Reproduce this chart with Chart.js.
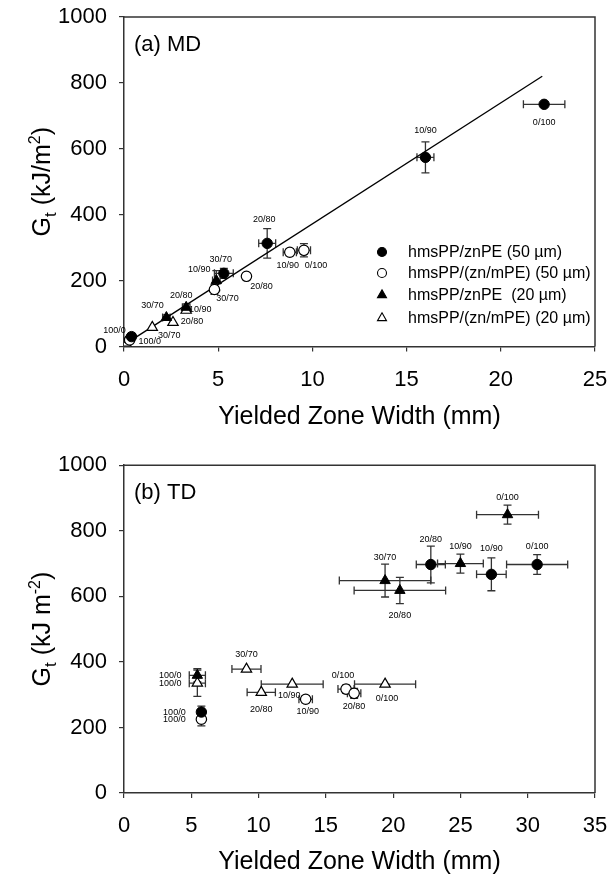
<!DOCTYPE html>
<html>
<head>
<meta charset="utf-8">
<script src="https://cdn.jsdelivr.net/npm/chart.js@4.4.0/dist/chart.umd.min.js"></script>
<style>
html, body { margin:0; padding:0; background:#fff; overflow:hidden; }
#wrap { position:relative; width:611px; height:877px; overflow:hidden; }
.box { position:absolute; left:0; width:630px; }
#boxMD { top:-10px; height:450px; }
#boxTD { top:440px; height:437px; }
</style>
</head>
<body>
<div id="wrap">
  <div class="box" id="boxMD"><canvas id="md"></canvas></div>
  <div class="box" id="boxTD"><canvas id="td"></canvas></div>
</div>
<script>
// ---------- (a) MD ----------
// hmsPP/znPE (50 um)
var mdFCtag  = ['100/0', '30/70', '20/80', '10/90', '0/100'];
var mdFCx    = [0.4, 5.3, 7.6, 16.0, 22.3];
var mdFCy    = [30, 222, 313, 574, 735];
var mdFCxErr = [0, 0.5, 0.45, 0.45, 1.1];
var mdFCyErr = [10, 15, 45, 47, 0];
// hmsPP/(zn/mPE) (50 um)
var mdOCtag  = ['100/0', '30/70', '20/80', '10/90', '0/100'];
var mdOCx    = [0.3, 4.8, 6.5, 8.8, 9.55];
var mdOCy    = [20, 173, 213, 286, 292];
var mdOCxErr = [0, 0, 0, 0.35, 0.35];
var mdOCyErr = [0, 15, 0, 10, 20];
// hmsPP/znPE (20 um)
var mdFTtag  = ['', '30/70', '20/80', '10/90'];
var mdFTx    = [0.2, 2.25, 3.3, 4.9];
var mdFTy    = [22, 88, 119, 200];
var mdFTxErr = [0, 0.2, 0.2, 0.2];
var mdFTyErr = [0, 8, 10, 30];
// hmsPP/(zn/mPE) (20 um)
var mdOTtag  = ['', '30/70', '20/80', '10/90'];
var mdOTx    = [0.1, 1.5, 2.6, 3.3];
var mdOTy    = [10, 58, 73, 110];
var mdOTxErr = [0, 0, 0, 0];
var mdOTyErr = [0, 0, 0, 0];
// fitted line
var mdFitX = [0, 22.2];
var mdFitY = [5, 820];

// ---------- (b) TD ----------
var tdFCtag  = ['100/0', '20/80', '10/90', '0/100'];
var tdFCx    = [5.75, 22.8, 27.3, 30.7];
var tdFCy    = [247, 697, 667, 697];
var tdFCxErr = [0, 1.08, 1.1, 2.27];
var tdFCyErr = [18, 56, 50, 30];

var tdOCtag  = ['100/0', '10/90', '0/100', '20/80'];
var tdOCx    = [5.75, 13.5, 16.5, 17.1];
var tdOCy    = [225, 286, 317, 304];
var tdOCxErr = [0, 0.5, 0.6, 0.5];
var tdOCyErr = [20, 10, 12, 15];

var tdFTtag  = ['100/0', '30/70', '20/80', '10/90', '0/100'];
var tdFTx    = [5.45, 19.4, 20.5, 25.0, 28.5];
var tdFTy    = [359, 648, 618, 700, 849];
var tdFTxErr = [0.6, 3.4, 3.4, 1.7, 2.3];
var tdFTyErr = [20, 50, 40, 29, 29];

var tdOTtag  = ['100/0', '30/70', '20/80', '10/90', '0/100'];
var tdOTx    = [5.45, 9.1, 10.2, 12.5, 19.4];
var tdOTy    = [335, 378, 307, 332, 332];
var tdOTxErr = [0.6, 1.08, 1.05, 2.3, 2.27];
var tdOTyErr = [40, 0, 0, 0, 0];

var seriesNames = ['hmsPP/znPE (50 \u00b5m)', 'hmsPP/(zn/mPE) (50 \u00b5m)',
                   'hmsPP/znPE  (20 \u00b5m)', 'hmsPP/(zn/mPE) (20 \u00b5m)'];

// label offsets (px from the marker) for the ratio tags
var mdFCoff = [[-17, -6], [-3, -14], [-3, -24], [0, -27], [0, 18]];
var mdOCoff = [[20, 2], [13, 9], [15, 10], [-2, 13], [12, 15]];
var mdFToff = [[0, 0], [-14, -12], [-5, -12], [-17, -11]];
var mdOToff = [[0, 0], [17, 8], [19, -1], [14, -1]];
var tdFCoff = [[-27, 0], [0, -25], [0, -26], [0, -18]];
var tdOCoff = [[-27, 0], [2, 12], [-3, -14], [0, 13]];
var tdFToff = [[-27, 0], [0, -23], [0, 25], [0, -17], [0, -17]];
var tdOToff = [[-27, 0], [0, -15], [0, 17], [-3, 11], [2, 14]];

var FONT = '"Liberation Sans", Arial, sans-serif';
Chart.defaults.font.family = FONT;
Chart.defaults.color = '#000';

function look(style, filled) {
    return {
        pointStyle: style,
        pointRadius: style == 'circle' ? 5.2 : 6,
        pointHoverRadius: style == 'circle' ? 5.2 : 6,
        backgroundColor: filled ? '#000' : '#fff',
        borderColor: '#000',
        borderWidth: filled ? 1 : 1.2
    };
}

function series(name, xs, ys, xe, ye, tags, offs, st) {
    return Object.assign({
        label: name,
        data: xs.map(function(v, i) { return {x: v, y: ys[i]}; }),
        xErr: xe, yErr: ye, tags: tags, tagOff: offs, showLine: false
    }, st);
}

function axis(min, max, step, size, pad) {
    return {
        type: 'linear', min: min, max: max,
        ticks: { stepSize: step, font: {size: 22}, color: '#000', padding: pad, maxRotation: 0, autoSkip: false,
                 callback: function(v) { return String(v); } },
        grid: { drawOnChartArea: false, drawTicks: true, tickLength: 5, color: '#333', lineWidth: 1.2 },
        border: { display: true, color: '#333', width: 1.5 },
        afterFit: function(s) { if (s.isHorizontal()) s.height = size; else s.width = size; }
    };
}

function drawMark(ctx, style, filled, x, y) {
    ctx.beginPath();
    if (style == 'circle') {
        ctx.arc(x, y, 4.5, 0, Math.PI * 2);
    } else {
        var r = 5.2;
        ctx.moveTo(x, y - r);
        ctx.lineTo(x + r * 0.866, y + r / 2);
        ctx.lineTo(x - r * 0.866, y + r / 2);
        ctx.closePath();
    }
    ctx.fillStyle = filled ? '#000' : '#fff';
    ctx.fill();
    ctx.lineWidth = 1.1;
    ctx.strokeStyle = '#000';
    ctx.stroke();
}

var deco = {
    id: 'deco',
    beforeDatasetsDraw: function(chart) {
        var ctx = chart.ctx, xs = chart.scales.x, ys = chart.scales.y;
        ctx.save();
        ctx.strokeStyle = '#333';
        ctx.lineWidth = 1.3;
        chart.data.datasets.forEach(function(ds) {
            if (!ds.xErr) return;
            ds.data.forEach(function(p, i) {
                var px = xs.getPixelForValue(p.x), py = ys.getPixelForValue(p.y);
                var ex = ds.xErr[i], ey = ds.yErr[i];
                ctx.beginPath();
                if (ex > 0) {
                    var x1 = xs.getPixelForValue(p.x - ex), x2 = xs.getPixelForValue(p.x + ex);
                    ctx.moveTo(x1, py); ctx.lineTo(x2, py);
                    ctx.moveTo(x1, py - 4); ctx.lineTo(x1, py + 4);
                    ctx.moveTo(x2, py - 4); ctx.lineTo(x2, py + 4);
                }
                if (ey > 0) {
                    var y1 = ys.getPixelForValue(p.y - ey), y2 = ys.getPixelForValue(p.y + ey);
                    ctx.moveTo(px, y1); ctx.lineTo(px, y2);
                    ctx.moveTo(px - 4, y1); ctx.lineTo(px + 4, y1);
                    ctx.moveTo(px - 4, y2); ctx.lineTo(px + 4, y2);
                }
                ctx.stroke();
            });
        });
        ctx.restore();
    },
    afterDatasetsDraw: function(chart) {
        var ctx = chart.ctx, xs = chart.scales.x, ys = chart.scales.y;
        ctx.save();
        ctx.font = '9px ' + FONT;
        ctx.fillStyle = '#000';
        ctx.textAlign = 'center';
        ctx.textBaseline = 'middle';
        chart.data.datasets.forEach(function(ds) {
            if (!ds.tags) return;
            ds.data.forEach(function(p, i) {
                if (!ds.tags[i]) return;
                var o = ds.tagOff[i];
                ctx.fillText(ds.tags[i], xs.getPixelForValue(p.x) + o[0], ys.getPixelForValue(p.y) + o[1]);
            });
        });
        ctx.restore();
    },
    afterDraw: function(chart, args, o) {
        var ctx = chart.ctx, a = chart.chartArea;
        ctx.save();
        // top and right frame
        ctx.strokeStyle = '#333';
        ctx.lineWidth = 1.5;
        ctx.beginPath();
        ctx.moveTo(a.left, a.top); ctx.lineTo(a.right, a.top); ctx.lineTo(a.right, a.bottom);
        ctx.stroke();
        ctx.fillStyle = '#000';
        // panel label
        ctx.font = '22px ' + FONT;
        ctx.textAlign = 'left';
        ctx.textBaseline = 'middle';
        ctx.fillText(o.panel, a.left + 10, a.top + 28);
        // x title
        ctx.font = '25px ' + FONT;
        ctx.textAlign = 'center';
        ctx.fillText('Yielded Zone Width (mm)', (a.left + a.right) / 2, o.xTitleY);
        // y title with sub/superscript
        ctx.save();
        ctx.translate(50, (a.top + a.bottom) / 2);
        ctx.rotate(-Math.PI / 2);
        ctx.textAlign = 'left';
        ctx.textBaseline = 'alphabetic';
        var parts = o.yTitle, total = 0;
        parts.forEach(function(pt) { ctx.font = pt[1] + 'px ' + FONT; total += ctx.measureText(pt[0]).width; });
        var cx = -total / 2;
        parts.forEach(function(pt) {
            ctx.font = pt[1] + 'px ' + FONT;
            ctx.fillText(pt[0], cx, pt[2]);
            cx += ctx.measureText(pt[0]).width;
        });
        ctx.restore();
        // legend
        if (o.legend) {
            var rows = [252, 273, 295, 318];
            var marks = [['circle', true], ['circle', false], ['triangle', true], ['triangle', false]];
            ctx.font = '16px ' + FONT;
            ctx.textAlign = 'left';
            ctx.textBaseline = 'middle';
            rows.forEach(function(ry, i) {
                drawMark(ctx, marks[i][0], marks[i][1], 382, ry + o.shift);
                ctx.fillStyle = '#000';
                ctx.fillText(seriesNames[i], 408, ry + o.shift + 1);
            });
        }
        ctx.restore();
    }
};

function buildChart(id, sets, fit, xMax, padTop, xSize, opts) {
    var datasets = sets.slice();
    if (fit) {
        datasets.push({
            type: 'line',
            data: fit[0].map(function(v, i) { return {x: v, y: fit[1][i]}; }),
            borderColor: '#000', borderWidth: 1.3, pointRadius: 0, fill: false, order: 10
        });
    }
    return new Chart(document.getElementById(id).getContext('2d'), {
        type: 'scatter',
        data: { datasets: datasets },
        options: {
            responsive: true,
            maintainAspectRatio: false,
            animation: false,
            events: [],
            layout: { padding: { left: 0, top: padTop, right: 35, bottom: 0 } },
            scales: {
                x: axis(0, xMax, 5, xSize, 15),
                y: axis(0, 1000, 200, 124, 12)
            },
            plugins: { legend: { display: false }, tooltip: { enabled: false }, deco: opts }
        },
        plugins: [deco]
    });
}

buildChart('md', [
    series(seriesNames[0], mdFCx, mdFCy, mdFCxErr, mdFCyErr, mdFCtag, mdFCoff, look('circle', true)),
    series(seriesNames[1], mdOCx, mdOCy, mdOCxErr, mdOCyErr, mdOCtag, mdOCoff, look('circle', false)),
    series(seriesNames[2], mdFTx, mdFTy, mdFTxErr, mdFTyErr, mdFTtag, mdFToff, look('triangle', true)),
    series(seriesNames[3], mdOTx, mdOTy, mdOTxErr, mdOTyErr, mdOTtag, mdOToff, look('triangle', false))
], [mdFitX, mdFitY], 25, 27, 93.5, {
    panel: '(a) MD', xTitleY: 427, legend: true, shift: 10,
    yTitle: [['G', 25, 0], ['t', 17, 6], [' (kJ/m', 25, 0], ['2', 16, -10], [')', 25, 0]]
});

buildChart('td', [
    series(seriesNames[0], tdFCx, tdFCy, tdFCxErr, tdFCyErr, tdFCtag, tdFCoff, look('circle', true)),
    series(seriesNames[1], tdOCx, tdOCy, tdOCxErr, tdOCyErr, tdOCtag, tdOCoff, look('circle', false)),
    series(seriesNames[2], tdFTx, tdFTy, tdFTxErr, tdFTyErr, tdFTtag, tdFToff, look('triangle', true)),
    series(seriesNames[3], tdOTx, tdOTy, tdOTxErr, tdOTyErr, tdOTtag, tdOToff, look('triangle', false))
], null, 35, 24, 84, {
    panel: '(b) TD', xTitleY: 422, legend: false, shift: 0,
    yTitle: [['G', 25, 0], ['t', 17, 6], [' (kJ m', 25, 0], ['-2', 16, -10], [')', 25, 0]]
});
</script>
</body>
</html>
